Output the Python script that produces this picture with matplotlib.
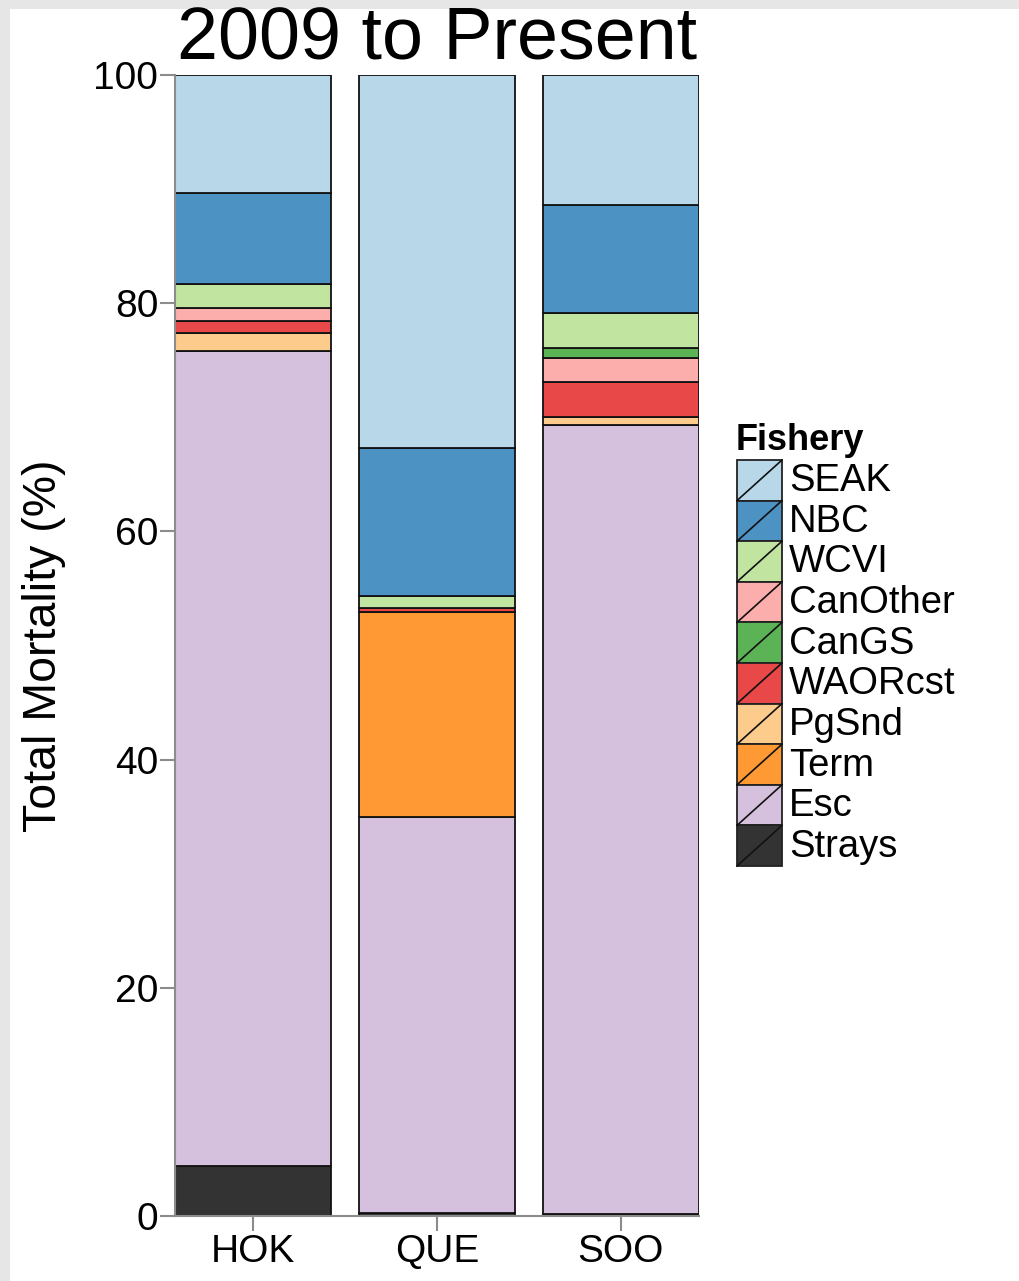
import matplotlib
matplotlib.use("Agg")
import matplotlib.pyplot as plt
from matplotlib.patches import Rectangle
import numpy as np

plt.rcParams['font.family'] = ['Liberation Sans', 'DejaVu Sans']

sites = ["HOK", "QUE", "SOO"]
fisheries = ["SEAK", "NBC", "WCVI", "CanOther", "CanGS", "WAORcst", "PgSnd", "Term", "Esc", "Strays"]
# order in which segments are stacked, from the top of the bar down
stack_order = ["SEAK", "NBC", "WCVI", "CanGS", "CanOther", "WAORcst", "PgSnd", "Term", "Esc", "Strays"]
# values per fishery for HOK, QUE, SOO (percent of total mortality)
SEAK = [10.3, 32.7, 11.4]
NBC = [8.0, 13.0, 9.5]
WCVI = [2.1, 1.0, 3.0]
CanOther = [1.2, 0.0, 2.1]
CanGS = [0.0, 0.0, 0.9]
WAORcst = [1.0, 0.4, 3.1]
PgSnd = [1.6, 0.0, 0.7]
Term = [0.0, 17.9, 0.0]
Esc = [71.4, 34.7, 69.1]
Strays = [4.4, 0.3, 0.2]
values = [SEAK, NBC, WCVI, CanOther, CanGS, WAORcst, PgSnd, Term, Esc, Strays]
yticks = [0, 20, 40, 60, 80, 100]

base_colors = ["#A6CEE3", "#1F78B4", "#B2DF8A", "#FB9A99", "#33A02C",
               "#E31A1C", "#FDBF6F", "#FF7F00", "#CAB2D6", "#000000"]

def blend(c, a=0.8):
    rgb = np.array(matplotlib.colors.to_rgb(c))
    return tuple(a * rgb + (1 - a) * 1.0)

colors = [blend(c) for c in base_colors]
val_map = dict(zip(fisheries, values))
col_map = dict(zip(fisheries, colors))

W, H = 1019, 1281
fig = plt.figure(figsize=(W / 100, H / 100), dpi=100)
fig.patch.set_facecolor("#e6e6e6")
fig.patches.append(Rectangle((10 / W, 0), 1 - 10 / W, 1 - 9 / H, transform=fig.transFigure,
                             facecolor="white", edgecolor="none", zorder=-10))

ax = fig.add_axes([175 / W, 1 - 1216 / H, (699 - 175) / W, (1216 - 75) / H])
ax.set_facecolor("white")
x = np.arange(len(sites))
width = 0.85
bottom = np.zeros(len(sites))
for name in reversed(stack_order):
    v = np.array(val_map[name])
    ax.bar(x, v, width=width, bottom=bottom, color=col_map[name], edgecolor="#111111", linewidth=1.3)
    bottom += v

ax.set_xlim(-width / 2, len(sites) - 1 + width / 2)
ax.set_ylim(0, 100)
ax.set_yticks(yticks)
ax.set_yticklabels([str(t) for t in yticks])
ax.set_xticks(x)
ax.set_xticklabels(sites)
for s in ["top", "right"]:
    ax.spines[s].set_visible(False)
for s in ["left", "bottom"]:
    ax.spines[s].set_color("#8c8c8c")
    ax.spines[s].set_linewidth(1.5)
ax.tick_params(axis="both", colors="#8c8c8c", length=11, width=1.5, labelsize=28,
               labelcolor="black")
ax.tick_params(axis="y", pad=1)
ax.tick_params(axis="x", pad=2)
ax.set_ylabel("Total Mortality (%)", fontsize=33.5, labelpad=20)
ax.set_title("2009 to Present", fontsize=53, pad=3)

# legend
lax = fig.add_axes([0, 0, 1, 1])
lax.set_xlim(0, W)
lax.set_ylim(H, 0)
lax.axis("off")
lax.text(736, 440, "Fishery", fontsize=26, fontweight="bold", va="center", ha="left")
key_top, key_h, key_x, key_w = 460, 40.6, 737, 45
for i, (name, col) in enumerate(zip(fisheries, colors)):
    y0 = key_top + i * key_h
    lax.add_patch(Rectangle((key_x, y0), key_w, key_h, facecolor=col, edgecolor="#222222", linewidth=1.3))
    lax.plot([key_x, key_x + key_w], [y0 + key_h, y0], color="#111111", linewidth=1.2)
    lax.text(789, y0 + key_h / 2 + 1, name, fontsize=27.5, va="center", ha="left")

fig.savefig("out.png", dpi=100, facecolor=fig.get_facecolor())
